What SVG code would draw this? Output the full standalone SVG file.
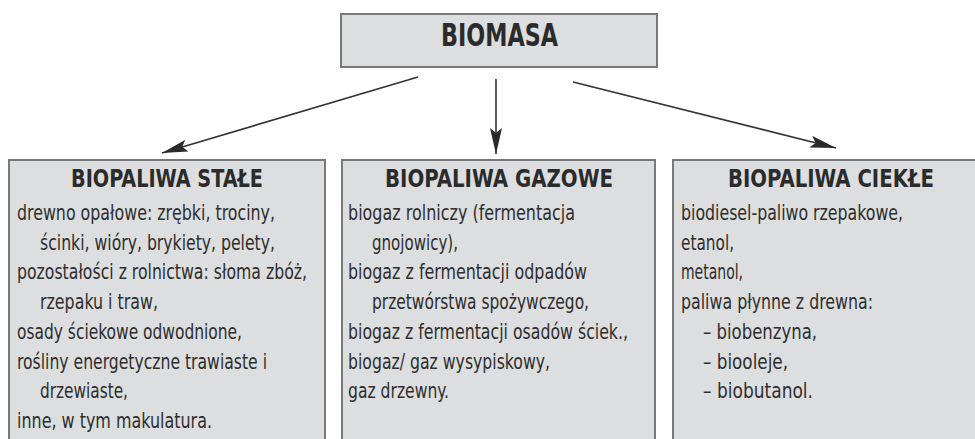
<svg xmlns="http://www.w3.org/2000/svg" width="975" height="439" viewBox="0 0 975 439">
<style>
  .box { fill: #dddee0; stroke: #77787a; stroke-width: 2; }
  .ttl { font-family: "Liberation Sans Narrow", "DejaVu Sans Condensed", "Liberation Sans", sans-serif; font-weight: bold; fill: #2b2b2b; text-anchor: middle; }
  .t { font-family: "Liberation Sans Narrow", "DejaVu Sans Condensed", "Liberation Sans", sans-serif; font-size: 21px; fill: #2e2e2e; }
  .conn { stroke: #333333; stroke-width: 1.6; fill: none; marker-end: url(#ah); }
</style>
<defs>
  <marker id="ah" viewBox="0 0 26 12" refX="26" refY="6" markerWidth="26" markerHeight="12" markerUnits="userSpaceOnUse" orient="auto">
    <path d="M0,0 L26,6 L0,12 L5,6 Z" fill="#2b2b2b"/>
  </marker>
</defs>
<rect width="975" height="439" fill="#ffffff"/>

<g id="connectors">
  <line class="conn" x1="418" y1="77" x2="162" y2="153"/>
  <line class="conn" x1="496" y1="79" x2="496" y2="154"/>
  <line class="conn" x1="573" y1="82" x2="836" y2="148"/>
</g>

<g id="biomasa">
  <rect class="box" x="341" y="14" width="316" height="53"/>
  <text class="ttl" x="499.5" y="46" font-size="32" textLength="117" lengthAdjust="spacingAndGlyphs">BIOMASA</text>
</g>

<g id="stale">
  <rect class="box" x="9" y="160" width="316" height="290"/>
  <text class="ttl" x="167" y="187" font-size="24" textLength="192" lengthAdjust="spacingAndGlyphs">BIOPALIWA STAŁE</text>
  <text class="t" x="17" y="220" textLength="258" lengthAdjust="spacingAndGlyphs">drewno opałowe: zrębki, trociny,</text>
  <text class="t" x="40" y="249.7" textLength="235" lengthAdjust="spacingAndGlyphs">ścinki, wióry, brykiety, pelety,</text>
  <text class="t" x="17" y="279.4" textLength="290" lengthAdjust="spacingAndGlyphs">pozostałości z rolnictwa: słoma zbóż,</text>
  <text class="t" x="40" y="309.1" textLength="118" lengthAdjust="spacingAndGlyphs">rzepaku i traw,</text>
  <text class="t" x="17" y="338.8" textLength="225" lengthAdjust="spacingAndGlyphs">osady ściekowe odwodnione,</text>
  <text class="t" x="17" y="368.5" textLength="250" lengthAdjust="spacingAndGlyphs">rośliny energetyczne trawiaste i</text>
  <text class="t" x="40" y="398.2" textLength="88" lengthAdjust="spacingAndGlyphs">drzewiaste,</text>
  <text class="t" x="17" y="427.9" textLength="195" lengthAdjust="spacingAndGlyphs">inne, w tym makulatura.</text>
</g>

<g id="gazowe">
  <rect class="box" x="342" y="160" width="313" height="290"/>
  <text class="ttl" x="499" y="187" font-size="24" textLength="228" lengthAdjust="spacingAndGlyphs">BIOPALIWA GAZOWE</text>
  <text class="t" x="348" y="220" textLength="227" lengthAdjust="spacingAndGlyphs">biogaz rolniczy (fermentacja</text>
  <text class="t" x="372" y="249.7" textLength="86" lengthAdjust="spacingAndGlyphs">gnojowicy),</text>
  <text class="t" x="348" y="279.4" textLength="239" lengthAdjust="spacingAndGlyphs">biogaz z fermentacji odpadów</text>
  <text class="t" x="372" y="309.1" textLength="217" lengthAdjust="spacingAndGlyphs">przetwórstwa spożywczego,</text>
  <text class="t" x="348" y="338.8" textLength="280" lengthAdjust="spacingAndGlyphs">biogaz z fermentacji osadów ściek.,</text>
  <text class="t" x="348" y="368.5" textLength="202" lengthAdjust="spacingAndGlyphs">biogaz/ gaz wysypiskowy,</text>
  <text class="t" x="348" y="398.2" textLength="101" lengthAdjust="spacingAndGlyphs">gaz drzewny.</text>
</g>

<g id="ciekle">
  <rect class="box" x="673" y="160" width="316" height="290"/>
  <text class="ttl" x="831" y="187" font-size="24" textLength="206" lengthAdjust="spacingAndGlyphs">BIOPALIWA CIEKŁE</text>
  <text class="t" x="681" y="220" textLength="222" lengthAdjust="spacingAndGlyphs">biodiesel-paliwo rzepakowe,</text>
  <text class="t" x="681" y="249.7" textLength="53" lengthAdjust="spacingAndGlyphs">etanol,</text>
  <text class="t" x="681" y="279.4" textLength="62" lengthAdjust="spacingAndGlyphs">metanol,</text>
  <text class="t" x="681" y="309.1" textLength="192" lengthAdjust="spacingAndGlyphs">paliwa płynne z drewna:</text>
  <text class="t" x="703" y="338.8" textLength="114" lengthAdjust="spacingAndGlyphs">– biobenzyna,</text>
  <text class="t" x="703" y="368.5" textLength="85" lengthAdjust="spacingAndGlyphs">– biooleje,</text>
  <text class="t" x="703" y="398.2" textLength="110" lengthAdjust="spacingAndGlyphs">– biobutanol.</text>
</g>
</svg>
